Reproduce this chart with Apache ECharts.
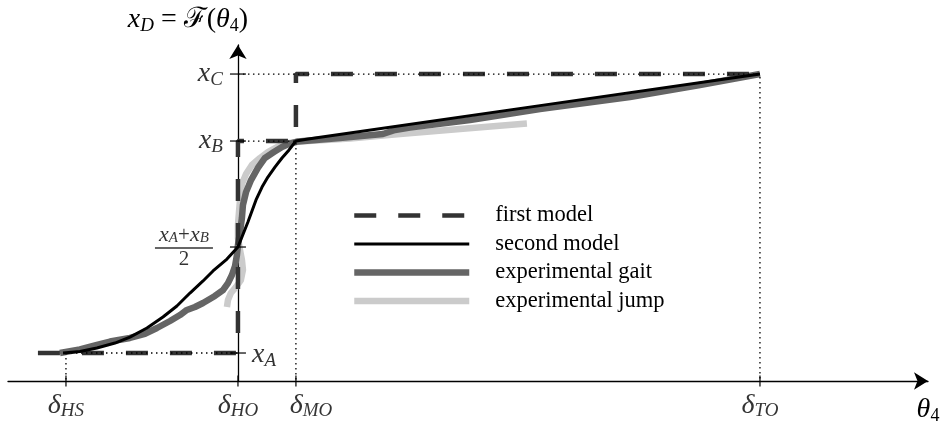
<!DOCTYPE html>
<html>
<head>
<meta charset="utf-8">
<script src="https://cdn.jsdelivr.net/npm/echarts@6/dist/echarts.min.js"></script>
<style>html,body{margin:0;padding:0;background:#fff;}#c{width:951px;height:426px;}</style>
</head>
<body>
<div id="c"></div>
<script>
// ---- key abscissae / ordinates (schematic units) ----
const xHS = -1, xHO = 0, xMO = 0.337, xTO = 3.035;
const yA = 0, yMid = 0.5, yB = 1, yC = 1.316;
const xMin = -1.337, xMax = 4.012, yMin = -0.132, yMax = 1.453;
const xFirstStart = -1.163;

// ---- tick labels ----
const xTickValues = [xHS, xHO, xMO, xTO];
const xTickLabels = ['{m|δ}{s|HS}', '{m|δ}{s|HO}', '{m|δ}{s|MO}', '{m|δ}{s|TO}'];
const yTickValues = [yA, yMid, yB, yC];
const yTickLabels = ['{m|x}{s|A}', '{fm|x}{fs|A}{fr|+}{fm|x}{fs|B}\n{bar| }\n{fr|2}', '{m|x}{s|B}', '{m|x}{s|C}'];

// ---- series names ----
const seriesNames = ['first model', 'second model', 'experimental gait', 'experimental jump'];

// ---- first model (step function) ----
const firstModel = [[xFirstStart, yA], [xHO, yA], [xHO, yB], [xMO, yB], [xMO, yC], [xTO, yC]];

// ---- second model ----
const secondModel = [
  [-1.017, 0.000], [-0.919, 0.007], [-0.820, 0.024], [-0.715, 0.047], [-0.628, 0.075],
  [-0.529, 0.118], [-0.436, 0.170], [-0.355, 0.222], [-0.279, 0.283], [-0.203, 0.340],
  [-0.145, 0.387], [-0.064, 0.443], [0.000, 0.500], [0.058, 0.618], [0.105, 0.722],
  [0.140, 0.783], [0.174, 0.830], [0.215, 0.877], [0.256, 0.920], [0.297, 0.958],
  [0.337, 1.000], [0.390, 1.007], [0.448, 1.014], [1.756, 1.167], [3.035, 1.316]
];

// ---- experimental gait ----
const gait = [
  [-1.035, 0.000], [-0.919, 0.017], [-0.820, 0.038], [-0.744, 0.054], [-0.628, 0.071],
  [-0.541, 0.090], [-0.471, 0.118], [-0.395, 0.151], [-0.337, 0.179], [-0.297, 0.203],
  [-0.250, 0.217], [-0.203, 0.236], [-0.134, 0.269], [-0.087, 0.297], [-0.058, 0.330],
  [-0.035, 0.368], [-0.017, 0.410], [-0.006, 0.462], [0.000, 0.509], [0.012, 0.571],
  [0.023, 0.637], [0.029, 0.698], [0.047, 0.759], [0.076, 0.816], [0.116, 0.873],
  [0.157, 0.920], [0.209, 0.948], [0.256, 0.972], [0.302, 0.988], [0.349, 0.998],
  [0.593, 1.014], [0.843, 1.033], [0.913, 1.052], [1.000, 1.064], [1.349, 1.099],
  [1.756, 1.151], [2.279, 1.208], [2.686, 1.264], [3.035, 1.316]
];

// ---- experimental jump ----
const jump = [
  [-0.064, 0.217], [-0.058, 0.250], [-0.041, 0.283], [-0.012, 0.311], [0.017, 0.344],
  [0.029, 0.392], [0.023, 0.439], [0.012, 0.486], [0.000, 0.542], [0.000, 0.604],
  [0.006, 0.665], [0.012, 0.722], [0.023, 0.797], [0.047, 0.844], [0.081, 0.887],
  [0.128, 0.920], [0.174, 0.948], [0.227, 0.972], [0.279, 0.988], [0.360, 0.998],
  [0.651, 1.012], [0.942, 1.033], [1.291, 1.057], [1.680, 1.083]
];

// ---- build helpers ----
const serif = "'Liberation Serif', 'DejaVu Serif', serif";
const rich = {
  m: {fontFamily: serif, fontStyle: 'italic', fontSize: 28, lineHeight: 30, color: '#000'},
  s: {fontFamily: serif, fontStyle: 'italic', fontSize: 19, lineHeight: 18, verticalAlign: 'bottom', color: '#000'},
  u: {fontFamily: serif, fontSize: 18, lineHeight: 18, verticalAlign: 'bottom', color: '#000'},
  r: {fontFamily: serif, fontSize: 28, lineHeight: 30, color: '#000'},
  fm: {fontFamily: serif, fontStyle: 'italic', fontSize: 22, lineHeight: 19, align: 'center', color: '#000'},
  fs: {fontFamily: serif, fontStyle: 'italic', fontSize: 15, lineHeight: 7, verticalAlign: 'top', padding: [5, 0, 0, 0], align: 'center', color: '#000'},
  fr: {fontFamily: serif, fontSize: 21, lineHeight: 17, align: 'center', color: '#000'},
  bar: {width: 58, height: 1.4, lineHeight: 6, backgroundColor: '#000', align: 'center'}
};

const guides = [
  [xHO, yC], [xTO, yC], [xTO, yMin], null,
  [xHO, yB], [xMO, yB], [xMO, yMin], null,
  [xHS, yA], [xHO, yA], null,
  [xHS, yA], [xHS, yMin]
];

const xLabelPlacement = [
  {position: 'bottom', distance: 4},
  {position: 'bottom', distance: 4},
  {position: 'bottom', distance: 4, offset: [15, 0]},
  {position: 'bottom', distance: 4}
];
const yLabelPlacement = [
  {position: 'right', distance: 6, offset: [0, 2]},
  {position: 'left', distance: 17},
  {position: 'left', distance: 7},
  {position: 'left', distance: 7}
];

const xTicks = xTickValues.map((v, i) => ({
  value: [v, yMin],
  symbolSize: [1.5, 11],
  label: Object.assign({show: true, formatter: xTickLabels[i], rich: rich}, xLabelPlacement[i])
}));
const yTicks = yTickValues.map((v, i) => ({
  value: [xHO, v],
  symbolSize: [16, 1.5],
  label: Object.assign({show: true, formatter: yTickLabels[i], rich: rich}, yLabelPlacement[i])
}));

const seriesLook = {
  'first model': {color: '#333', width: 4.5, type: [22, 22]},
  'second model': {color: '#000', width: 3, type: 'solid'},
  'experimental gait': {color: '#656565', width: 6.5, type: 'solid'},
  'experimental jump': {color: '#cbcbcb', width: 6.5, type: 'solid'}
};

const chart = echarts.init(document.getElementById('c'), null, {renderer: 'canvas'});
chart.setOption({
  animation: false,
  backgroundColor: '#fff',
  grid: {left: 8, right: 23, top: 45, bottom: 45, containLabel: false},
  legend: {
    data: seriesNames.map(n => ({
      name: n,
      lineStyle: {color: seriesLook[n].color, width: seriesLook[n].width, type: seriesLook[n].type},
      itemStyle: {opacity: 0}
    })),
    orient: 'vertical',
    left: 346, top: 199, padding: 5,
    itemWidth: 115, itemHeight: 14, itemGap: 5.5,
    textStyle: {fontFamily: serif, fontSize: 22.5, lineHeight: 22, color: '#000', padding: [0, 0, 0, 21]}
  },
  xAxis: {
    type: 'value', min: xMin, max: xMax,
    axisLine: {show: true, onZero: false, symbol: ['none', 'arrow'], symbolSize: [13, 14], lineStyle: {color: '#000', width: 1.3}},
    axisTick: {show: false}, axisLabel: {show: false}, splitLine: {show: false},
    name: '{m|θ}{u|4}', nameLocation: 'end', nameGap: 0,
    nameTextStyle: {rich: rich, align: 'center', verticalAlign: 'top', padding: [14, 0, 0, 0]}
  },
  yAxis: {
    type: 'value', min: yMin, max: yMax,
    axisLine: {show: true, onZero: true, symbol: ['none', 'arrow'], symbolSize: [13, 14], lineStyle: {color: '#000', width: 1.3}},
    axisTick: {show: false}, axisLabel: {show: false}, splitLine: {show: false},
    name: '{m|x}{s|D}{r| = ℱ(}{m|θ}{u|4}{r|)}', nameLocation: 'end', nameGap: 10,
    nameTextStyle: {rich: rich, align: 'center', padding: [0, 100, 0, 0]}
  },
  series: [
    {name: seriesNames[3], type: 'line', data: jump, symbol: 'none', z: 2,
     lineStyle: {color: '#cbcbcb', width: 6.5, join: 'round'}, itemStyle: {color: '#cbcbcb'}},
    {name: seriesNames[2], type: 'line', data: gait, symbol: 'none', z: 3,
     lineStyle: {color: '#656565', width: 6.5, join: 'round'}, itemStyle: {color: '#656565'}},
    {name: seriesNames[0], type: 'line', data: firstModel, symbol: 'none', z: 4,
     lineStyle: {color: '#333', width: 4.5, type: [22, 22]}, itemStyle: {color: '#333'}},
    {name: 'guides', type: 'line', data: guides, symbol: 'none', z: 5, connectNulls: false, silent: true,
     lineStyle: {color: '#000', width: 1.3, type: [1.5, 3.5]}},
    {name: seriesNames[1], type: 'line', data: secondModel, symbol: 'none', z: 6,
     lineStyle: {color: '#000', width: 3, join: 'round'}, itemStyle: {color: '#000'}},
    {name: 'ticks', type: 'scatter', symbol: 'rect', clip: false, z: 7, silent: true,
     itemStyle: {color: '#000'}, data: xTicks.concat(yTicks)}
  ]
});
</script>
</body>
</html>
